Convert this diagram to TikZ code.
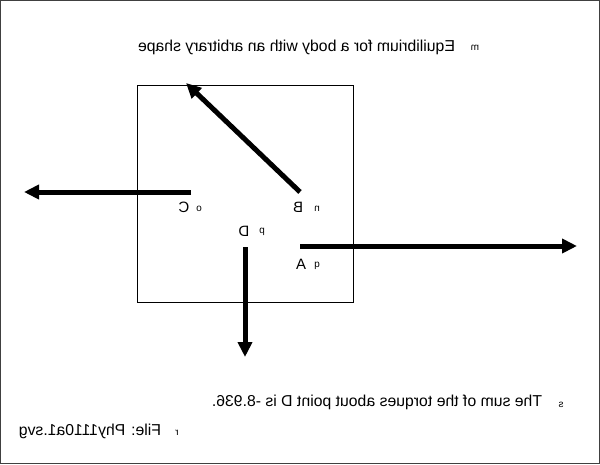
\documentclass[tikz,border=0pt]{standalone}
\usepackage{fontspec}
\setmainfont{Liberation Sans}
\usetikzlibrary{arrows.meta}
\begin{document}
\begin{tikzpicture}[x=1pt,y=-1pt,
  txt/.style={inner sep=0pt,xscale=-1,font=\fontsize{15.8}{18}\selectfont},
  lbl/.style={inner sep=0pt,xscale=-1,font=\fontsize{15}{17}\selectfont},
  tiny/.style={inner sep=0pt,xscale=-1,font=\fontsize{10}{11}\selectfont},
  force/.style={line width=5pt,-{Triangle[length=15pt,width=14pt]}},
  frame/.style={draw=black!75,line width=1.2pt}]
\useasboundingbox (0,0) rectangle (600,464);
\draw[frame] (0.8,0.8) rectangle (599.2,463.2);
\draw[line width=1pt] (137,85) rectangle (353,302);
% points
\coordinate (Bt) at (300,192);
\coordinate (Bh) at (186,83);
\coordinate (Ct) at (191,192);
\coordinate (Ch) at (24,192);
\coordinate (At) at (300,246);
\coordinate (Ah) at (577,246);
\coordinate (Dt) at (245,247);
\coordinate (Dh) at (245,357);
\draw[force] (Bt) -- (Bh);
\draw[force] (Ct) -- (Ch);
\draw[force] (At) -- (Ah);
\draw[force] (Dt) -- (Dh);
% labels
\node[txt] (title) at (296.5,47) {Equilibrium for a body with an arbitrary shape};
\node[tiny] (m) at (475,48) {m};
\node[lbl] (B) at (298,207) {B};
\node[tiny] (n) at (317,209) {n};
\node[lbl] (C) at (184,207) {C};
\node[tiny] (o) at (199,209) {o};
\node[lbl] (D) at (244,231) {D};
\node[tiny] (p) at (262,232) {p};
\node[lbl] (A) at (301,264) {A};
\node[tiny] (q) at (317,266) {q};
\node[txt] (sum) at (377,402) {The sum of the torques about point D is -8.936.};
\node[tiny] (s) at (561,405) {s};
\node[txt] (file) at (90,431) {File: Phy1110a1.svg};
\node[tiny] (r) at (177,433) {r};
\end{tikzpicture}
\end{document}
